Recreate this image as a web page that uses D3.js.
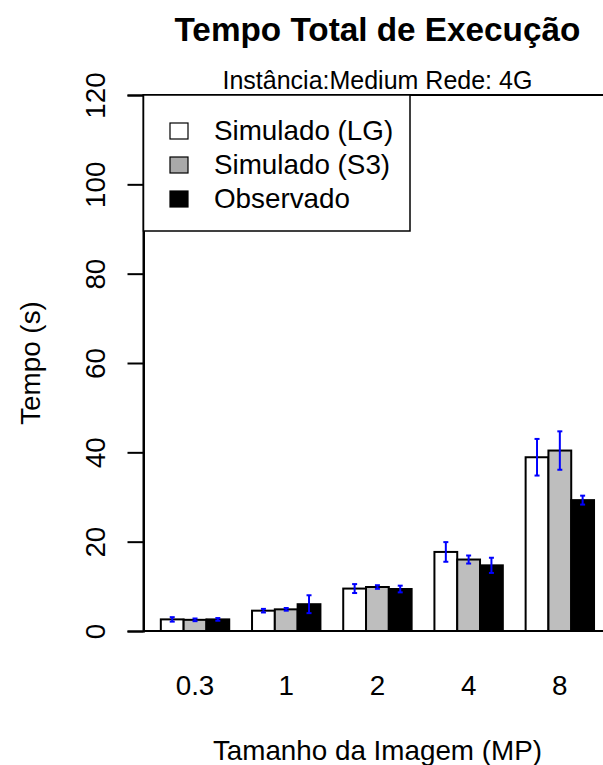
<!DOCTYPE html>
<html>
<head>
<meta charset="utf-8">
<script src="https://cdn.jsdelivr.net/npm/d3@7"></script>
<style>
  html, body { margin: 0; padding: 0; background: #fff; }
  svg { display: block; font-family: "Liberation Sans", Arial, Helvetica, sans-serif; }
</style>
</head>
<body>
<div id="chart"></div>
<script>
// Tempo total de execução por tamanho de imagem (Instância Medium, rede 4G)
const categories = ["0.3", "1", "2", "4", "8"];
const seriesNames = ["Simulado (LG)", "Simulado (S3)", "Observado"];
const simuladoLG = [2.6, 4.55, 9.5, 17.7, 38.9];
const simuladoS3 = [2.5, 4.85, 9.85, 16.0, 40.4];
const observado = [2.6, 6.0, 9.4, 14.7, 29.3];
const erroLG = [0.5, 0.4, 1.0, 2.2, 4.1];
const erroS3 = [0.3, 0.3, 0.4, 0.9, 4.3];
const erroObs = [0.3, 2.0, 0.75, 1.7, 1.0];
const yTicks = [0, 20, 40, 60, 80, 100, 120];

const values = [simuladoLG, simuladoS3, observado];
const errors = [erroLG, erroS3, erroObs];
const barFill = ["#FFFFFF", "#BEBEBE", "#000000"];
const legendFill = ["#FFFFFF", "#A9A9A9", "#000000"];

const W = 603, H = 765;
const svg = d3.select("#chart").append("svg").attr("width", W).attr("height", H);

// barplot coordinates: each group = 3 bars of width 1 plus a space of 1
const nSeries = 3;
const xMin = 1, xMax = categories.length * (nSeries + 1);
const pad = (xMax - xMin) * 0.04;
const x = d3.scaleLinear().domain([xMin - pad, xMax + pad]).range([143.5, 143.5 + (xMax - xMin + 2 * pad) * 22.8]);
const y = d3.scaleLinear().domain([0, 120]).range([631, 95]);

const bars = [];
categories.forEach((c, g) => {
  for (let s = 0; s < nSeries; s++) {
    const left = xMin + g * (nSeries + 1) + s;
    bars.push({ g, s, left, value: values[s][g], err: errors[s][g] });
  }
});

const fontBase = 27.8;

// bars
svg.append("g").selectAll("rect").data(bars).join("rect")
  .attr("x", d => x(d.left))
  .attr("y", d => y(d.value))
  .attr("width", d => x(d.left + 1) - x(d.left))
  .attr("height", d => y(0) - y(d.value))
  .attr("fill", d => barFill[d.s])
  .attr("stroke", "#000")
  .attr("stroke-width", 2);

// error bars
const eb = svg.append("g").attr("stroke", "#0000FF").attr("stroke-width", 2);
bars.forEach(d => {
  const cx = x(d.left + 0.5);
  const y1 = y(d.value - d.err), y2 = y(d.value + d.err);
  eb.append("line").attr("x1", cx).attr("x2", cx).attr("y1", y1).attr("y2", y2);
  eb.append("line").attr("x1", cx - 2.5).attr("x2", cx + 2.5).attr("y1", y1).attr("y2", y1);
  eb.append("line").attr("x1", cx - 2.5).attr("x2", cx + 2.5).attr("y1", y2).attr("y2", y2);
});

// plot box
svg.append("rect")
  .attr("x", x.range()[0]).attr("y", y(120))
  .attr("width", x.range()[1] - x.range()[0]).attr("height", y(0) - y(120))
  .attr("fill", "none").attr("stroke", "#000").attr("stroke-width", 2);

// y axis
const yAxis = d3.axisLeft(y).tickValues(yTicks).tickSize(16).tickFormat(d3.format("d"));
const ya = svg.append("g").attr("transform", `translate(${x.range()[0]},0)`).call(yAxis);
ya.select(".domain").attr("stroke-width", 2);
ya.selectAll(".tick line").attr("stroke-width", 2);
ya.selectAll(".tick text")
  .attr("font-size", fontBase)
  .attr("fill", "#000")
  .attr("text-anchor", "middle")
  .attr("dy", 0)
  .attr("x", 0)
  .attr("transform", "translate(-39,0) rotate(-90)");

// x category labels
svg.append("g").selectAll("text").data(categories).join("text")
  .attr("x", (c, g) => x(xMin + g * (nSeries + 1) + nSeries / 2))
  .attr("y", 695)
  .attr("text-anchor", "middle")
  .attr("font-size", fontBase)
  .text(d => d);

// titles
const cxPlot = (x.range()[0] + x.range()[1]) / 2;
svg.append("text").attr("x", cxPlot).attr("y", 41).attr("text-anchor", "middle")
  .attr("font-size", 33.3).attr("font-weight", "bold").text("Tempo Total de Execução");
svg.append("text").attr("x", cxPlot).attr("y", 89).attr("text-anchor", "middle")
  .attr("font-size", 25).text("Instância:Medium Rede: 4G");
svg.append("text").attr("x", cxPlot).attr("y", 760).attr("text-anchor", "middle")
  .attr("font-size", fontBase).text("Tamanho da Imagem (MP)");
svg.append("text").attr("transform", `translate(40,${(y(0) + y(120)) / 2}) rotate(-90)`)
  .attr("text-anchor", "middle").attr("font-size", fontBase).text("Tempo (s)");

// legend
const lg = svg.append("g");
lg.append("rect").attr("x", x.range()[0]).attr("y", y(120)).attr("width", 410 - x.range()[0]).attr("height", 231 - y(120))
  .attr("fill", "#fff").attr("stroke", "#000").attr("stroke-width", 1.5);
seriesNames.forEach((n, i) => {
  const cy = 131 + i * 34;
  lg.append("rect").attr("x", 170).attr("y", cy - 8).attr("width", 18).attr("height", 16)
    .attr("fill", legendFill[i]).attr("stroke", "#000").attr("stroke-width", 1.2);
  lg.append("text").attr("x", 214).attr("y", cy + 9).attr("font-size", fontBase).text(n);
});
</script>
</body>
</html>
